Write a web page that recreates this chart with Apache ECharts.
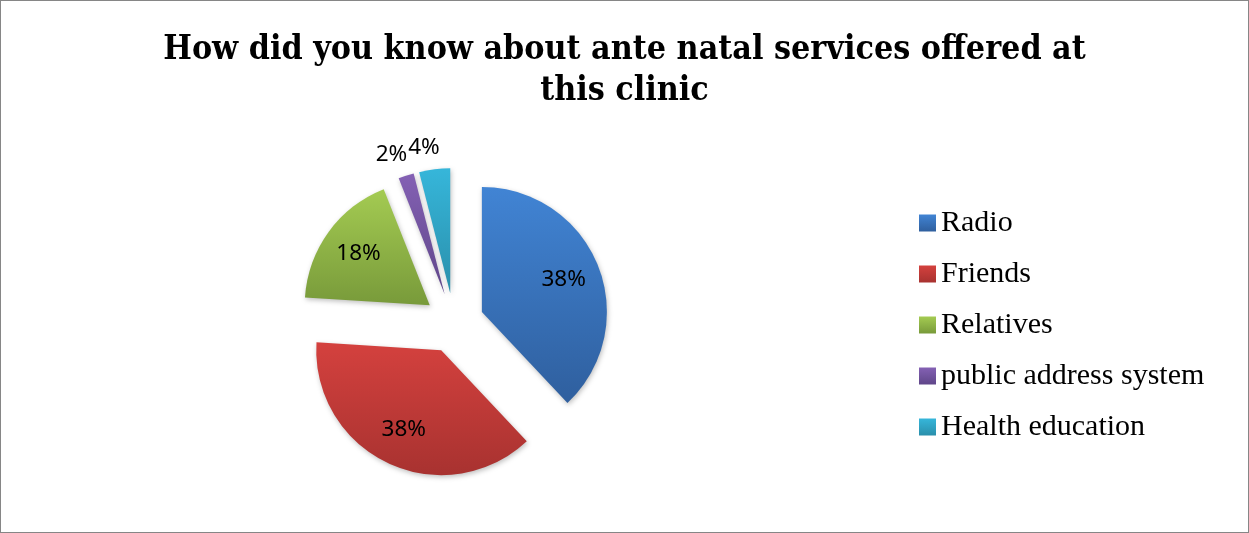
<!DOCTYPE html>
<html><head><meta charset="utf-8">
<script src="https://cdn.jsdelivr.net/npm/echarts@6/dist/echarts.min.js"></script>
<style>html,body{margin:0;padding:0;background:#fff}#c{width:1249px;height:533px;box-sizing:border-box;border:1px solid #868686}</style>
</head><body><div id="c"></div>
<script>
const titleText = 'How did you know about ante natal services offered at\nthis clinic';
const categories = ['Radio', 'Friends', 'Relatives', 'public address system', 'Health education'];
const values = [38, 38, 18, 2, 4];
const topColors = ['#4184d4', '#d4413e', '#a4cb52', '#8461b4', '#36b6da'];
const bottomColors = ['#2f5f9e', '#a83230', '#789a3a', '#5f4689', '#2a8fab'];

function grad(i) {
  return new echarts.graphic.LinearGradient(0, 0, 0, 1, [
    { offset: 0, color: topColors[i] },
    { offset: 1, color: bottomColors[i] }
  ]);
}
const chart = echarts.init(document.getElementById('c'));
const center = [453, 322];
const R = 125;
const mainData = categories.map((n, i) => ({
  name: n, value: values[i], selected: true,
  itemStyle: { color: grad(i) },
  label: { show: values[i] < 10 }
}));
const labelData = categories.map((n, i) => ({
  name: n, value: values[i], selected: true,
  label: { show: values[i] >= 10 }
}));
chart.setOption({
  animation: false,
  title: {
    text: titleText, left: 'center', top: 24,
    textStyle: { fontFamily: 'DejaVu Serif Condensed', fontWeight: 'bold', fontSize: 33.7, lineHeight: 41, color: '#000' }
  },
  legend: {
    orient: 'vertical', left: 913, top: 202,
    itemWidth: 17, itemHeight: 17, itemGap: 21, icon: 'rect',
    textStyle: { fontFamily: 'Liberation Serif', fontSize: 30, color: '#000', padding: [0, 0, 0, 0] },
    data: categories
  },
  series: [
    {
      type: 'pie', center: center, radius: R, startAngle: 90, clockwise: true,
      selectedMode: 'multiple', selectedOffset: 30, avoidLabelOverlap: false,
      labelLayout: { hideOverlap: false },
      itemStyle: { shadowBlur: 5, shadowColor: 'rgba(0,0,0,0.25)', shadowOffsetX: 1, shadowOffsetY: 2 },
      label: { position: 'outside', formatter: '{c}%', fontFamily: 'Noto Sans', fontSize: 22.5, color: '#000', distanceToLabelLine: -8 },
      labelLine: { show: false, length: 22, length2: 0 },
      emphasis: { disabled: true },
      data: mainData
    },
    {
      type: 'pie', center: center, radius: [45, R], startAngle: 90, clockwise: true,
      selectedMode: 'multiple', selectedOffset: 30, silent: true,
      itemStyle: { color: 'rgba(0,0,0,0)' },
      label: { position: 'inside', formatter: '{c}%', fontFamily: 'Noto Sans', fontSize: 22.5, color: '#000' },
      labelLine: { show: false },
      emphasis: { disabled: true },
      data: labelData
    }
  ]
});
</script></body></html>
